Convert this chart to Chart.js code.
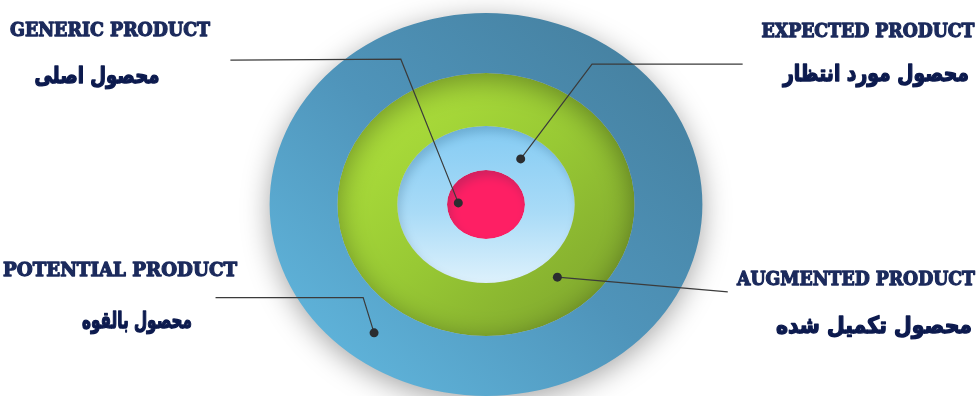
<!DOCTYPE html>
<html>
<head>
<meta charset="utf-8">
<script src="https://cdn.jsdelivr.net/npm/chart.js@4.4.0/dist/chart.umd.min.js"></script>
<style>
  html, body { margin: 0; padding: 0; background: #fff; }
  #wrap { position: relative; width: 979px; height: 396px; }
  #wrap canvas { position: absolute; left: 0; top: 0; }
</style>
</head>
<body>
<div id="wrap">
  <canvas id="rings" width="979" height="396"></canvas>
  <canvas id="labels" width="979" height="396"></canvas>
</div>
<script>
// levels, outer ring first (doughnut draws dataset 0 outermost)
var levels = ["Potential product", "Augmented product", "Expected product", "Generic product"];
var ringDepth = [60, 53, 44, 34.5];

var englishLabels = ["GENERIC PRODUCT", "EXPECTED PRODUCT", "POTENTIAL PRODUCT", "AUGMENTED PRODUCT"];
var persianLabels = ["محصول اصلی", "محصول مورد انتظار", "محصول بالقوه", "محصول تکمیل شده"];

// leader lines, last point is the dot on the ring
var genericLine = [{x: 228, y: 57}, {x: 400, y: 56}, {x: 458, y: 203}];
var expectedLine = [{x: 745, y: 61}, {x: 593, y: 61}, {x: 521, y: 158}];
var potentialLine = [{x: 213, y: 300}, {x: 362, y: 300}, {x: 373, y: 336}];
var augmentedLine = [{x: 730, y: 294}, {x: 558, y: 279}];

// text layout (centre x, centre y, width) for english and persian lines
var spots = [
  {x: 110, y: 31, w: 200, px: 97, py: 77, pw: 125},
  {x: 868, y: 32, w: 213, px: 876, py: 75, pw: 186},
  {x: 120, y: 271, w: 234, px: 137, py: 322, pw: 110},
  {x: 856, y: 280, w: 238, px: 874, py: 327, pw: 196}
];

var stretch = 1.13;

function ringFill(i) {
  return function(c) {
    var a = c.chart.chartArea;
    if (!a) return '#5aa';
    var ctx = c.chart.ctx;
    var cx = (a.left + a.right) / 2, cy = (a.top + a.bottom) / 2;
    var r = (a.bottom - a.top) / 2;
    var g;
    if (i == 0) {
      g = ctx.createLinearGradient(cx - r, cy + r, cx + r, cy - r);
      g.addColorStop(0, '#64bde4');
      g.addColorStop(0.5, '#4f94ba');
      g.addColorStop(1, '#437b99');
    } else if (i == 1) {
      g = ctx.createLinearGradient(cx - 130, cy - 130, cx + 130, cy + 130);
      g.addColorStop(0, '#b3e63d');
      g.addColorStop(0.5, '#98c934');
      g.addColorStop(1, '#7a9f2c');
    } else if (i == 2) {
      g = ctx.createLinearGradient(cx, cy - 78, cx, cy + 78);
      g.addColorStop(0, '#84cbf3');
      g.addColorStop(0.55, '#a9dbf7');
      g.addColorStop(1, '#ddf1fc');
    } else {
      g = '#fe1f64';
    }
    return g;
  };
}

var squash = {
  id: 'squash',
  beforeDatasetDraw: function(chart, args) {
    var ctx = chart.ctx;
    var a = chart.chartArea;
    var cx = (a.left + a.right) / 2, cy = (a.top + a.bottom) / 2;
    ctx.save();
    ctx.translate(cx, cy);
    ctx.scale(stretch, 1);
    ctx.translate(-cx, -cy);
    if (args.index == 0) {
      ctx.shadowColor = 'rgba(0,0,0,0.35)';
      ctx.shadowBlur = 28;
      ctx.shadowOffsetY = 6;
    } else {
      ctx.shadowColor = 'rgba(0,40,70,0.18)';
      ctx.shadowBlur = 10;
      ctx.shadowOffsetX = 3;
      ctx.shadowOffsetY = 6;
    }
  },
  afterDatasetDraw: function(chart) {
    chart.ctx.restore();
  }
};

new Chart(document.getElementById('rings'), {
  type: 'doughnut',
  data: {
    labels: ['ring'],
    datasets: levels.map(function(name, i) {
      return {
        label: name,
        data: [1],
        weight: ringDepth[i],
        backgroundColor: ringFill(i),
        borderWidth: 0
      };
    })
  },
  options: {
    responsive: false,
    animation: false,
    events: [],
    cutout: 0,
    layout: {padding: {left: 294, right: 301, top: 13, bottom: 0}},
    plugins: {legend: {display: false}, tooltip: {enabled: false}}
  },
  plugins: [squash]
});

function heavyText(ctx, txt, x, y, w, font, color, line) {
  ctx.font = font;
  ctx.fillStyle = color;
  ctx.strokeStyle = color;
  ctx.lineWidth = line;
  ctx.lineJoin = 'round';
  var m = ctx.measureText(txt).width;
  ctx.save();
  ctx.translate(x, y);
  ctx.scale(w / m, 1);
  ctx.strokeText(txt, 0, 0);
  ctx.fillText(txt, 0, 0);
  ctx.restore();
}

var textPlugin = {
  id: 'texts',
  afterDraw: function(chart) {
    var ctx = chart.ctx;
    ctx.save();
    ctx.textAlign = 'center';
    ctx.textBaseline = 'middle';
    for (var i = 0; i < spots.length; i++) {
      var s = spots[i];
      ctx.direction = 'ltr';
      heavyText(ctx, englishLabels[i], s.x, s.y, s.w, 'bold 19px "DejaVu Serif"', '#1b2a5c', 1.3);
      ctx.direction = 'rtl';
      heavyText(ctx, persianLabels[i], s.px, s.py, s.pw, 'bold 23px "DejaVu Sans"', '#0c1a4e', 1.4);
    }
    ctx.restore();
  }
};

function leader(pts) {
  return {
    data: pts,
    showLine: true,
    borderColor: '#3b3b3b',
    borderWidth: 1.2,
    tension: 0,
    pointRadius: function(c) { return c.dataIndex == pts.length - 1 ? 4.5 : 0; },
    pointBackgroundColor: '#2b2d30',
    pointBorderWidth: 0
  };
}

new Chart(document.getElementById('labels'), {
  type: 'scatter',
  data: {
    datasets: [leader(genericLine), leader(expectedLine), leader(potentialLine), leader(augmentedLine)]
  },
  options: {
    responsive: false,
    animation: false,
    events: [],
    layout: {padding: 0},
    scales: {
      x: {type: 'linear', min: 0, max: 979, display: false},
      y: {type: 'linear', min: 0, max: 396, reverse: true, display: false}
    },
    plugins: {legend: {display: false}, tooltip: {enabled: false}}
  },
  plugins: [textPlugin]
});
</script>
</body>
</html>
